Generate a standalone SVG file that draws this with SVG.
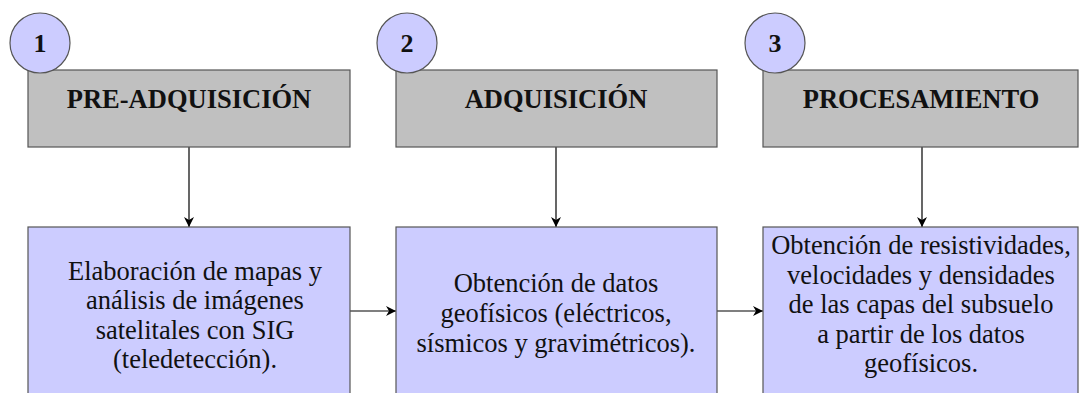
<svg xmlns="http://www.w3.org/2000/svg" width="1080" height="393" viewBox="0 0 1080 393">
<style>
.hdr{fill:#c0c0c0;stroke:#555;stroke-width:1.2}
.box{fill:#ccccff;stroke:#555;stroke-width:1.2}
.num{fill:#ccccff;stroke:#555;stroke-width:1.2}
.t{font-family:'Liberation Serif','Times New Roman',serif;fill:#111;text-anchor:middle}
.h{font-size:26.5px;font-weight:bold}
.n{font-size:26px;font-weight:bold}
.b{font-size:26.5px;font-weight:normal}
.c{stroke:#000;stroke-width:1.2;fill:none}
</style>
<defs>
<marker id="ah" viewBox="0 0 10 10" refX="10" refY="5" markerWidth="10" markerHeight="10" markerUnits="userSpaceOnUse" orient="auto">
<path d="M0,0 L10,5 L0,10 L3,5 z" fill="#000"/>
</marker>
</defs>
<rect width="1080" height="393" fill="#fff"/>
<g id="connectors">
<line class="c" x1="189" y1="147" x2="189" y2="227" marker-end="url(#ah)"/>
<line class="c" x1="556" y1="147" x2="556" y2="227" marker-end="url(#ah)"/>
<line class="c" x1="922" y1="147" x2="922" y2="227" marker-end="url(#ah)"/>
<line class="c" x1="350" y1="311" x2="396" y2="311" marker-end="url(#ah)"/>
<line class="c" x1="717" y1="311" x2="763" y2="311" marker-end="url(#ah)"/>
</g>
<g id="h1"><rect class="hdr" x="28" y="70" width="322" height="77"/><text class="t h" x="189" y="108">PRE-ADQUISICIÓN</text></g>
<g id="h2"><rect class="hdr" x="396" y="70" width="321" height="77"/><text class="t h" x="556" y="108">ADQUISICIÓN</text></g>
<g id="h3"><rect class="hdr" x="763" y="70" width="315" height="77"/><text class="t h" x="921" y="108">PROCESAMIENTO</text></g>
<g id="c1"><circle class="num" cx="40" cy="43" r="30"/><text class="t n" x="40" y="52">1</text></g>
<g id="c2"><circle class="num" cx="407" cy="43" r="30"/><text class="t n" x="407" y="52">2</text></g>
<g id="c3"><circle class="num" cx="775" cy="43" r="30"/><text class="t n" x="775" y="52">3</text></g>
<g id="b1"><rect class="box" x="28" y="227" width="322" height="180"/>
<text class="t b" x="195"><tspan x="195" y="280">Elaboración de mapas y</tspan><tspan x="195" y="309">análisis de imágenes</tspan><tspan x="195" y="339">satelitales con SIG</tspan><tspan x="195" y="368">(teledetección).</tspan></text></g>
<g id="b2"><rect class="box" x="396" y="227" width="321" height="180"/>
<text class="t b" x="556"><tspan x="556" y="292">Obtención de datos</tspan><tspan x="556" y="322">geofísicos (eléctricos,</tspan><tspan x="556" y="352">sísmicos y gravimétricos).</tspan></text></g>
<g id="b3"><rect class="box" x="763" y="227" width="315" height="180"/>
<text class="t b" x="921"><tspan x="921" y="254">Obtención de resistividades,</tspan><tspan x="921" y="284">velocidades y densidades</tspan><tspan x="921" y="313">de las capas del subsuelo</tspan><tspan x="921" y="343">a partir de los datos</tspan><tspan x="921" y="372">geofísicos.</tspan></text></g>
</svg>
